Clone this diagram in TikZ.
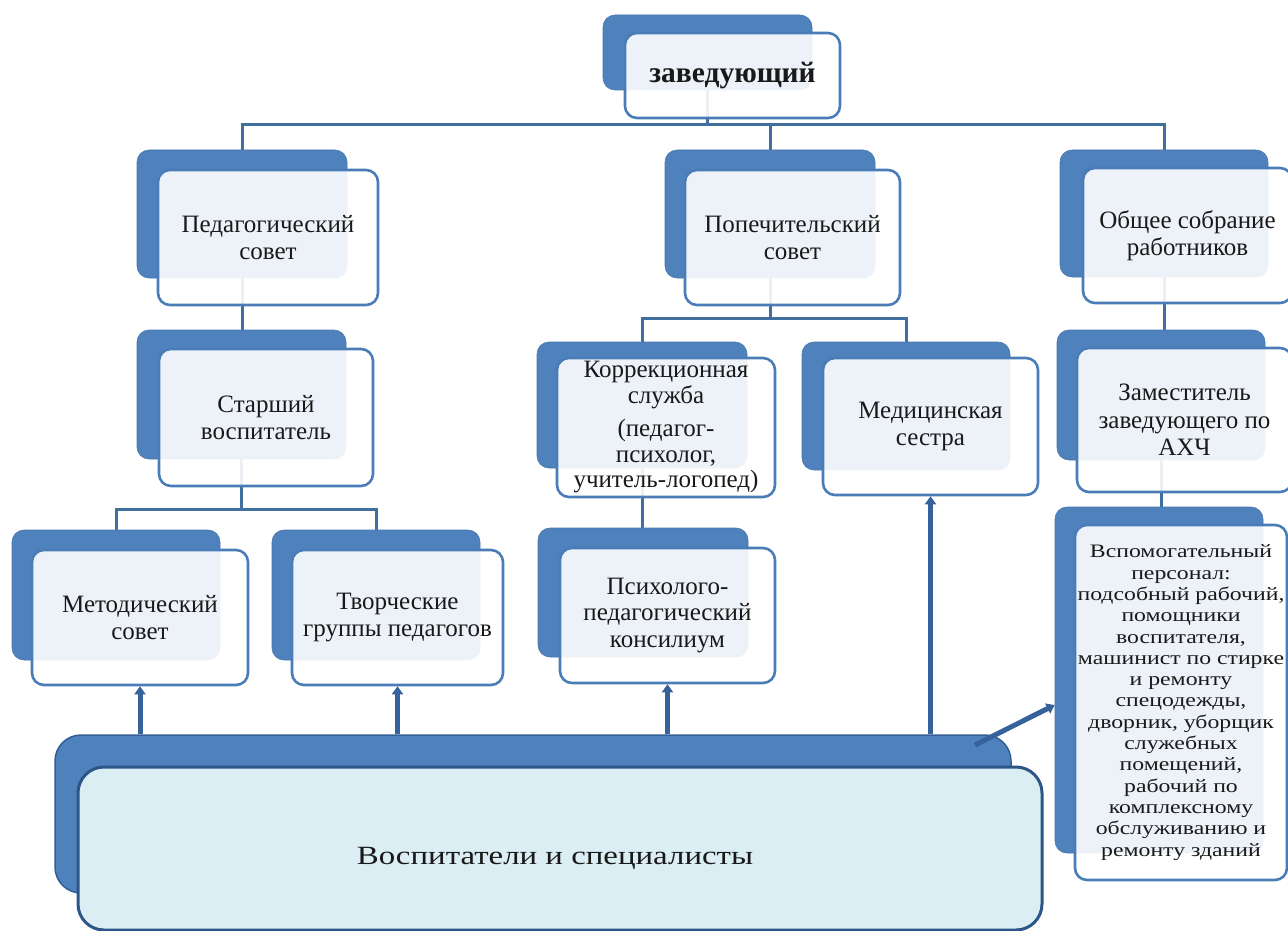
\documentclass[tikz,border=0pt]{standalone}
\usepackage{fontspec}
\setmainfont{Liberation Serif}
\newfontfamily\widefont{Liberation Serif}[FakeStretch=1.25]
\usetikzlibrary{fit,arrows.meta}
\definecolor{backblue}{HTML}{4F81BD}
\definecolor{frontline}{HTML}{4A7DB8}
\definecolor{treeline}{HTML}{41709F}
\definecolor{arrowblue}{HTML}{36619A}
\definecolor{bigfill}{HTML}{DAEEF3}
\definecolor{bigline}{HTML}{2C5588}
\tikzset{
  backbox/.style={fill=backblue, draw=backblue!92!black, line width=0.6pt, rounded corners=12pt, inner sep=0pt},
  frontbox/.style={draw=frontline, line width=2.6pt, fill=white, fill opacity=0.9, text opacity=1, rounded corners=12pt, inner sep=0pt},
  lbl/.style={align=center, text=black!90, inner sep=0pt, font=\fontsize{25}{26.5}\selectfont},
  tree/.style={draw=treeline, line width=3pt},
  arr/.style={draw=arrowblue, line width=5pt, -{Triangle[width=11pt,length=8pt]}},
  bigback/.style={fill=backblue, draw=bigline!80!backblue, line width=1.5pt, rounded corners=26pt, inner sep=0pt},
  bigfront/.style={fill=bigfill, draw=bigline, line width=3pt, rounded corners=26pt, inner sep=0pt},
}
\newcommand\orgbox[5]{%
  \node[backbox, fit={#2 #3}] (#1-b) {};
  \node[frontbox, fit={#4 #5}] (#1-f) {};
}
\newcommand\orglabel[3][]{\node[lbl,#1] (#2-t) at (#2-f.center) {#3};}
\pgfdeclarelayer{bg}
\pgfsetlayers{bg,main}
\begin{document}
\begin{tikzpicture}[x=1pt,y=-1pt]
\useasboundingbox (0,0) rectangle (1288,931);
% named coordinates for buses
\coordinate (bus1) at (0,125);
\coordinate (bus2) at (0,509);
\coordinate (bus3) at (0,318);
\coordinate (diagy) at (0,705);
\orgbox{zav}{(603,15)}{(812,90)}{(625,33)}{(840,118)}
\orgbox{ped}{(137,150)}{(347,278)}{(158,170)}{(378,305)}
\orgbox{pop}{(665,150)}{(875,278)}{(685,170)}{(900,305)}
\orgbox{obs}{(1060,150)}{(1268,277)}{(1083,168)}{(1292,303)}
\orgbox{star}{(137,330)}{(346,459)}{(159,349)}{(373,486)}
\orgbox{korr}{(537,342)}{(747,468)}{(557,358)}{(775,497)}
\orgbox{med}{(802,342)}{(1010,470)}{(823,358)}{(1038,495)}
\orgbox{zam}{(1057,330)}{(1265,460)}{(1077,348)}{(1292,492)}
\orgbox{met}{(12,530)}{(220,660)}{(32,550)}{(248,685)}
\orgbox{tvor}{(272,530)}{(480,660)}{(292,550)}{(503,685)}
\orgbox{psy}{(538,528)}{(748,657)}{(560,548)}{(775,683)}
\orgbox{vsp}{(1055,507)}{(1263,853)}{(1075,525)}{(1287,880)}
\orglabel[font=\bfseries\fontsize{29.5}{32}\selectfont]{zav}{заведующий}
\orglabel{ped}{Педагогический\\совет}
\orglabel{pop}{Попечительский\\совет}
\orglabel{obs}{Общее собрание\\работников}
\orglabel{star}{Старший\\воспитатель}
\orglabel[font=\fontsize{25}{25.5}\selectfont]{korr}{Коррекционная\\служба\\[8pt](педагог-\\психолог,\\учитель-логопед)}
\orglabel{med}{Медицинская\\сестра}
\orglabel[font=\fontsize{25}{27.5}\selectfont]{zam}{Заместитель\\заведующего по\\АХЧ}
\orglabel{met}{Методический\\совет}
\orglabel{tvor}{Творческие\\группы педагогов}
\orglabel{psy}{Психолого-\\педагогический\\консилиум}
\orglabel[font=\widefont\fontsize{19}{21.3}\selectfont]{vsp}{Вспомогательный\\персонал:\\подсобный рабочий,\\помощники\\воспитателя,\\машинист по стирке\\и ремонту\\спецодежды,\\дворник, уборщик\\служебных\\помещений,\\рабочий по\\комплексному\\обслуживанию и\\ремонту зданий}
% big box
\node[bigback, fit={(55,735) (1011,893)}] (big-b) {};
\node[bigfront, fit={(78,767) (1042,930)}] (big-f) {};
\node[lbl, font=\widefont\fontsize{26.3}{30}\selectfont] (big-t) at (555,858) {Воспитатели и специалисты};
% background and tree connectors behind boxes
\begin{pgfonlayer}{bg}
\fill[white] (0,0) rectangle (1288,931);
\draw[tree] (zav-b.center) -- (zav-b.center |- bus1);
\draw[tree] (ped-b.north) -- (ped-b.north |- bus1) -- (obs-b.north |- bus1) -- (obs-b.north);
\draw[tree] (pop-b.north) -- (pop-b.north |- bus1);
\draw[tree] (ped-b.center) -- (ped-b.center |- star-b.north);
\draw[tree] (star-b.center) -- (star-b.center |- bus2);
\draw[tree] (met-b.north) -- (met-b.north |- bus2) -- (tvor-b.north |- bus2) -- (tvor-b.north);
\draw[tree] (pop-b.center) -- (pop-b.center |- bus3);
\draw[tree] (korr-b.north) -- (korr-b.north |- bus3) -- (med-b.north |- bus3) -- (med-b.north);
\draw[tree] (korr-b.center) -- (korr-b.center |- psy-b.north);
\draw[tree] (obs-b.center) -- (obs-b.center |- zam-b.north);
\draw[tree] (zam-b.center) -- (zam-b.center |- vsp-b.north);
\end{pgfonlayer}
% thick arrows from the big box
\coordinate (d1) at (975,745);
\draw[arr] (met-f.south |- big-b.north) -- (met-f.south);
\draw[arr] (tvor-f.south |- big-b.north) -- (tvor-f.south);
\draw[arr] (psy-f.south |- big-b.north) -- (psy-f.south);
\draw[arr] (med-f.south |- big-b.north) -- (med-f.south);
\draw[arr] (d1) -- (vsp-b.west |- diagy);
\end{tikzpicture}
\end{document}
